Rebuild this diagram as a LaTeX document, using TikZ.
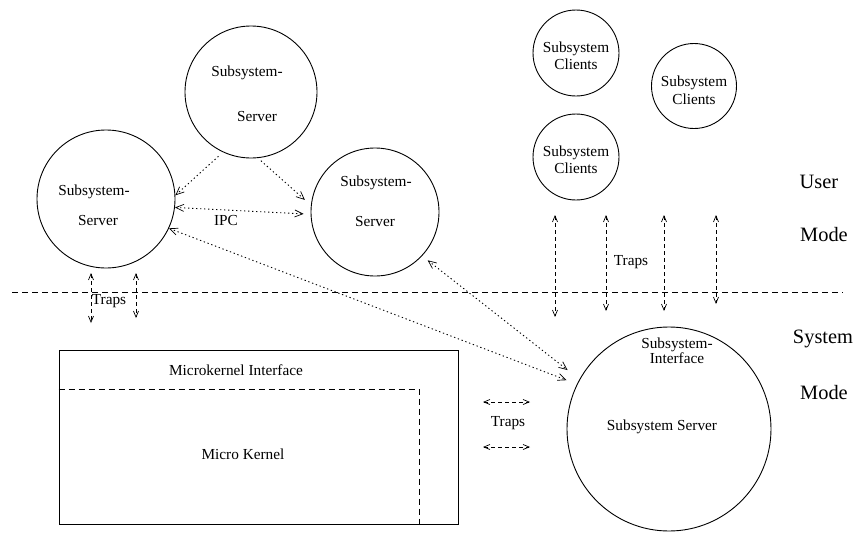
\documentclass[tikz,border=0pt]{standalone}
\usepackage{fontspec}
\setmainfont{Liberation Serif}
\usetikzlibrary{arrows.meta}
\begin{document}
\begin{tikzpicture}[x=1pt,y=-1pt,
  circ/.style={draw, circle, line width=0.9pt, inner sep=0pt, minimum size=#1},
  lbl/.style={inner sep=0pt, font=\fontsize{15.3}{15}\selectfont, text height=10.5pt, text depth=3pt},
  side/.style={inner sep=0pt, font=\fontsize{20.4}{20}\selectfont, text height=14pt, text depth=4pt},
  vtip/.tip={Straight Barb[length=8pt,width=7pt,line width=0.7pt]},
  stip/.tip={Straight Barb[length=6pt,width=5pt,line width=0.7pt]},
  ipc/.style={line width=0.9pt, dash pattern=on 1.3pt off 2.7pt, -vtip},
  ipcboth/.style={line width=0.9pt, dash pattern=on 1.3pt off 2.7pt, vtip-vtip},
  trap/.style={line width=0.8pt, dash pattern=on 4pt off 3pt, stip-stip},
  border/.style={line width=0.8pt, dash pattern=on 6pt off 4pt}]
\useasboundingbox (0,0) rectangle (855,536);

% subsystem servers in user mode
\node[circ=132pt] (T) at (251,92) {};
\node[lbl] (Ta) at (247,73) {Subsystem-};
\node[lbl] (Tb) at (257,118) {Server};

\node[circ=138pt] (L) at (106,199) {};
\node[lbl] (La) at (94,192) {Subsystem-};
\node[lbl] (Lb) at (98,222) {Server};

\node[circ=128pt] (M) at (375,212) {};
\node[lbl] (Ma) at (376,183) {Subsystem-};
\node[lbl] (Mb) at (375,223) {Server};

% subsystem clients
\node[circ=86pt] (Ca) at (576,53) {};
\node[lbl] (Ca1) at (576,49) {Subsystem};
\node[lbl] (Ca2) at (576,66) {Clients};
\node[circ=85pt] (Cb) at (694,86) {};
\node[lbl] (Cb1) at (694,83) {Subsystem};
\node[lbl] (Cb2) at (694,101) {Clients};
\node[circ=86pt] (Cc) at (576,157) {};
\node[lbl] (Cc1) at (576,153) {Subsystem};
\node[lbl] (Cc2) at (576,170) {Clients};

% subsystem server in system mode
\node[circ=204pt] (B) at (669,429) {};
\node[inner sep=0pt, align=center, font=\fontsize{15.3}{11}\selectfont] (Ba) at (677,351) {Subsystem-\\Interface};
\node[lbl] (Bc) at (662,427) {Subsystem Server};

% micro kernel
\node[draw, line width=0.9pt, minimum width=399pt, minimum height=174pt, inner sep=0pt] (K) at (258.5,437) {};
\draw[border] (K.west |- 0,389) -- (419,389) -- (419,524);
\node[lbl] (Ki) at (236,372) {Microkernel Interface};
\node[lbl] (Km) at (243,456) {Micro Kernel};

% user / system boundary
\coordinate (bl) at (12,292);
\coordinate (br) at (843,292);
\draw[border] (bl) -- (br);
\node[side] (U1) at (819,183) {User};
\node[side] (U2) at (824,236) {Mode};
\node[side] (S1) at (823,338) {System};
\node[side] (S2) at (824,394) {Mode};

% IPC between servers
\draw[ipc, shorten <=6pt] (T.-115) -- (L.3);
\draw[ipc, shorten <=4pt, shorten >=8pt] (T.-84) -- (M.174);
\draw[ipcboth, shorten >=7pt] (L.-7) -- (M.-178);
\draw[ipcboth, shorten >=11pt] (L.-25) -- (B.154);
\draw[ipcboth, shorten <=7pt, shorten >=15pt] (M.-43) -- (B.151);
\node[lbl] (ipcl) at (226,222) {IPC};

% traps
\coordinate (a1) at (91,273);  \coordinate (b1) at (91,323);
\coordinate (a2) at (136,273); \coordinate (b2) at (136,318);
\draw[trap] (a1) -- (b1);
\draw[trap] (a2) -- (b2);
\node[lbl] (tr1) at (109,301) {Traps};

\coordinate (a3) at (555,215); \coordinate (b3) at (555,317);
\coordinate (a4) at (606,215); \coordinate (b4) at (606,311);
\coordinate (a5) at (664,215); \coordinate (b5) at (664,311);
\coordinate (a6) at (716,215); \coordinate (b6) at (716,304);
\draw[trap] (a3) -- (b3);
\draw[trap] (a4) -- (b4);
\draw[trap] (a5) -- (b5);
\draw[trap] (a6) -- (b6);
\node[lbl] (tr2) at (631,262) {Traps};

\coordinate (a7) at (483,402); \coordinate (b7) at (530,402);
\coordinate (a8) at (483,447); \coordinate (b8) at (530,447);
\draw[trap] (a7) -- (b7);
\draw[trap] (a8) -- (b8);
\node[lbl] (tr3) at (508,423) {Traps};
\end{tikzpicture}
\end{document}
